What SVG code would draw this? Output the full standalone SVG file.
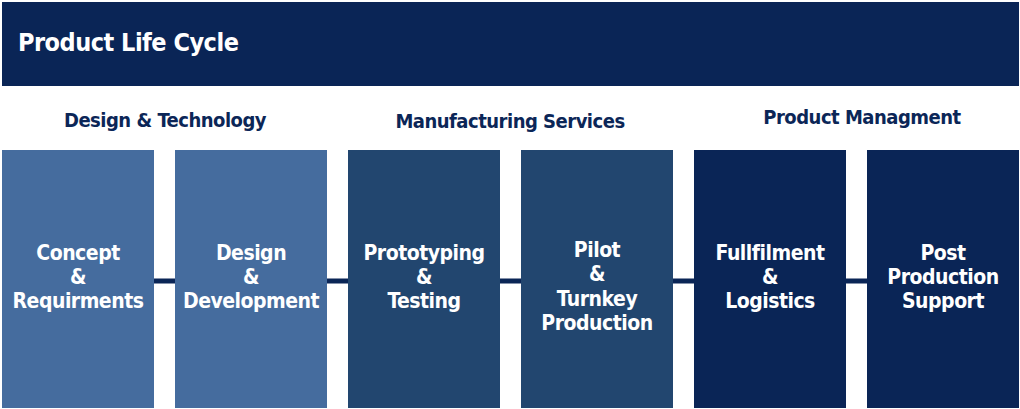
<svg xmlns="http://www.w3.org/2000/svg" width="1020" height="409" viewBox="0 0 1020 409">
<style>
text{font-family:"DejaVu Sans Condensed","DejaVu Sans",sans-serif;font-weight:bold;}
.b{fill:#fff;font-size:21px;text-anchor:middle;letter-spacing:-0.5px}
.s{fill:#0b2657;font-size:20px;text-anchor:middle;letter-spacing:-0.5px}
.c1{fill:#456c9e}.c2{fill:#22466f}.c3{fill:#0a2556}
</style>
<rect x="0" y="0" width="1020" height="409" fill="#fff"/>
<g id="header"><rect x="2" y="2" width="1017" height="84" fill="#0a2556"/>
<text x="18" y="51" fill="#fff" font-size="25" letter-spacing="-0.5">Product Life Cycle</text></g>
<g id="connectors"><line x1="150" y1="281" x2="870" y2="281" stroke="#0a2556" stroke-width="5"/></g>
<g id="sections">
<text class="s" x="165" y="127">Design &amp; Technology</text>
<text class="s" x="510" y="128">Manufacturing Services</text>
<text class="s" x="862" y="124">Product Managment</text></g>
<g id="n1"><rect class="c1" x="2" y="150" width="152" height="258"/><text class="b" x="78" y="260">Concept</text><text class="b" x="78" y="284">&amp;</text><text class="b" x="78" y="308">Requirments</text></g>
<g id="n2"><rect class="c1" x="175" y="150" width="152" height="258"/><text class="b" x="251" y="260">Design</text><text class="b" x="251" y="284">&amp;</text><text class="b" x="251" y="308">Development</text></g>
<g id="n3"><rect class="c2" x="348" y="150" width="152" height="258"/><text class="b" x="424" y="260">Prototyping</text><text class="b" x="424" y="284">&amp;</text><text class="b" x="424" y="308">Testing</text></g>
<g id="n4"><rect class="c2" x="521" y="150" width="152" height="258"/><text class="b" x="597" y="257">Pilot</text><text class="b" x="597" y="281">&amp;</text><text class="b" x="597" y="306">Turnkey</text><text class="b" x="597" y="330">Production</text></g>
<g id="n5"><rect class="c3" x="694" y="150" width="152" height="258"/><text class="b" x="770" y="260">Fullfilment</text><text class="b" x="770" y="284">&amp;</text><text class="b" x="770" y="308">Logistics</text></g>
<g id="n6"><rect class="c3" x="867" y="150" width="152" height="258"/><text class="b" x="943" y="260">Post</text><text class="b" x="943" y="284">Production</text><text class="b" x="943" y="308">Support</text></g>
</svg>
